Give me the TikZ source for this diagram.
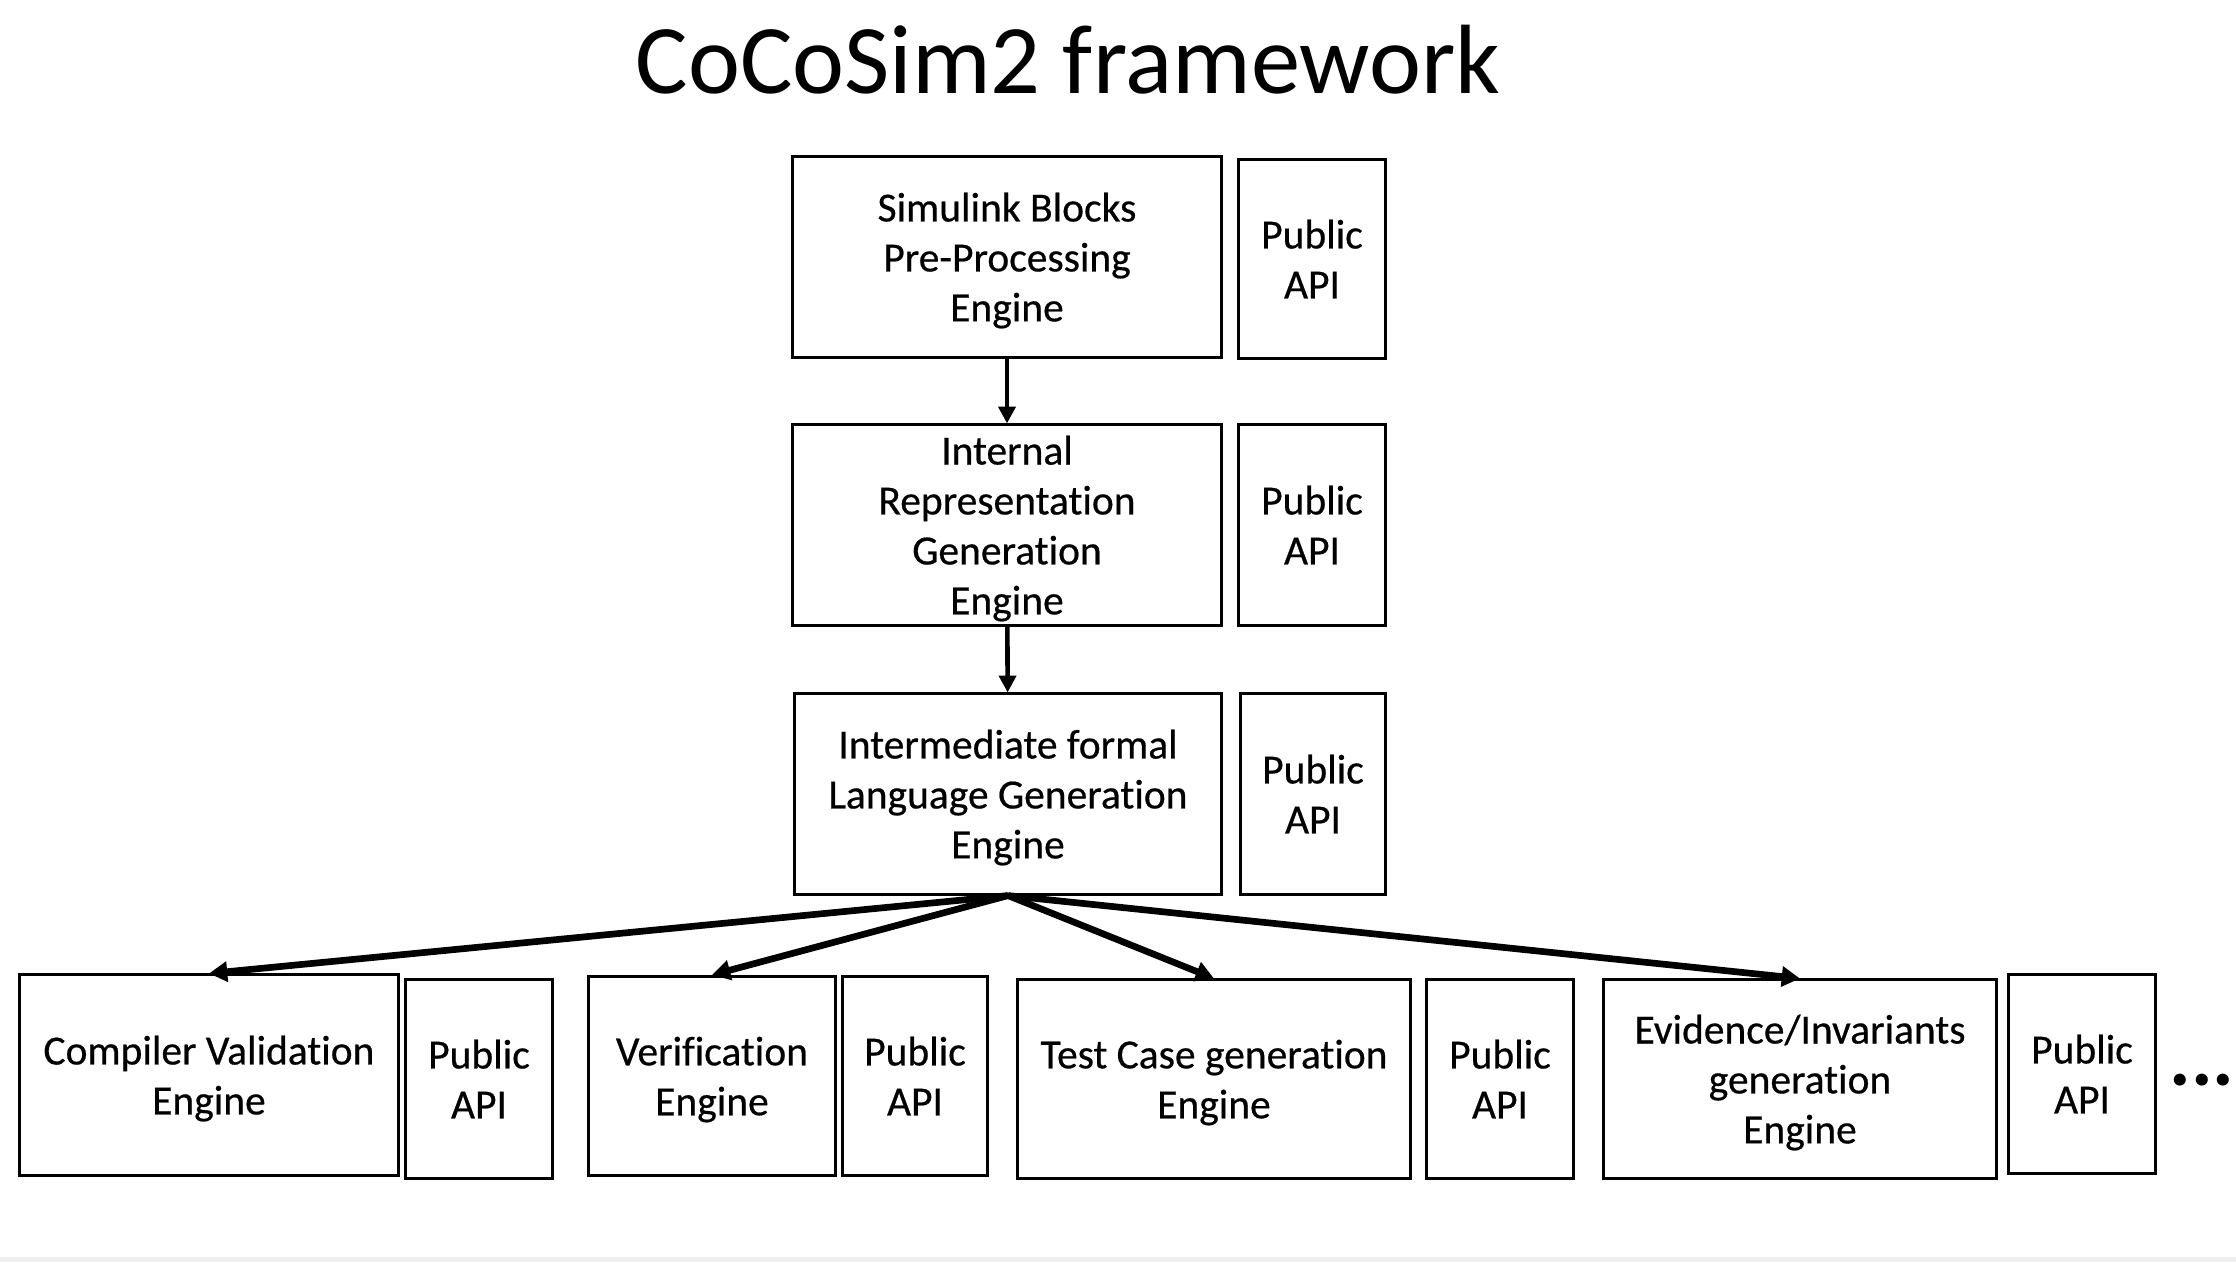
\documentclass[tikz,border=0pt]{standalone}
\usepackage{fontspec}
\setmainfont{Carlito}[Ligatures=NoCommon]
\newfontfamily\boxfont{Carlito}[Ligatures=NoCommon, FakeBold=0.5]
\usetikzlibrary{arrows.meta}

\begin{document}
\begin{tikzpicture}[x=0.01cm, y=-0.01cm,
    engine/.style={draw, line width=0.85pt, align=center, inner sep=0pt,
      text depth=-0.3pt, font=\boxfont\fontsize{11.8}{14.2}\selectfont},
    flow/.style={line width=1.3pt, -{Triangle[length=4.8pt,width=4.8pt]}},
    fan/.style={line width=1.9pt, -{Triangle[length=5.2pt,width=5.6pt]}}]
      \useasboundingbox (0,0) rectangle (2236,1262);
      \fill[gray!12] (0,1257) rectangle (2236,1262);

      \node[anchor=base, font=\fontsize{28}{34}\selectfont] (title) at (1068,93) {CoCoSim2 framework};

      % upper column
      \node[engine, minimum width=4.28cm, minimum height=2cm] (pre) at (1007,257)
        {Simulink Blocks\\Pre-Processing\\Engine};
      \node[engine, minimum width=1.46cm, minimum height=1.98cm] (apiPre) at (1312,259) {Public\\API};
      \node[engine, minimum width=4.28cm, minimum height=2cm] (ir) at (1007,525)
        {Internal\\Representation\\Generation\\Engine};
      \node[engine, minimum width=1.46cm, minimum height=2cm] (apiIr) at (1312,525) {Public\\API};
      \node[engine, minimum width=4.27cm, minimum height=2cm] (ifl) at (1008,794)
        {Intermediate formal\\Language Generation\\Engine};
      \node[engine, minimum width=1.45cm, minimum height=2cm] (apiIfl) at (1313,794) {Public\\API};

      % lower row
      \node[engine, minimum width=3.78cm, minimum height=2cm] (cv) at (209,1075)
        {Compiler Validation\\Engine};
      \node[engine, minimum width=1.46cm, minimum height=1.98cm] (apiCv) at (479,1079) {Public\\API};
      \node[engine, minimum width=2.47cm, minimum height=1.99cm] (ver) at (712,1076)
        {Verification\\Engine};
      \node[engine, minimum width=1.45cm, minimum height=1.99cm] (apiVer) at (915,1076) {Public\\API};
      \node[engine, minimum width=3.92cm, minimum height=1.98cm] (tc) at (1214,1079)
        {Test Case generation\\Engine};
      \node[engine, minimum width=1.46cm, minimum height=1.98cm] (apiTc) at (1500,1079) {Public\\API};
      \node[engine, minimum width=3.92cm, minimum height=1.98cm] (ev) at (1800,1079)
        {Evidence/Invariants\\generation\\Engine};
      \node[engine, minimum width=1.46cm, minimum height=1.99cm] (apiEv) at (2082,1074) {Public\\API};
      \node[anchor=base west, inner sep=0pt, font=\fontsize{23}{27}\bfseries] (more) at (2169,1085) {...};

      \draw[flow] (pre) -- (ir);
      \draw[flow] (ir) -- (ifl);
      \foreach \t in {cv,ver,tc,ev}
        \draw[fan] (ifl.south) -- (\t.north);
\end{tikzpicture}
\end{document}
